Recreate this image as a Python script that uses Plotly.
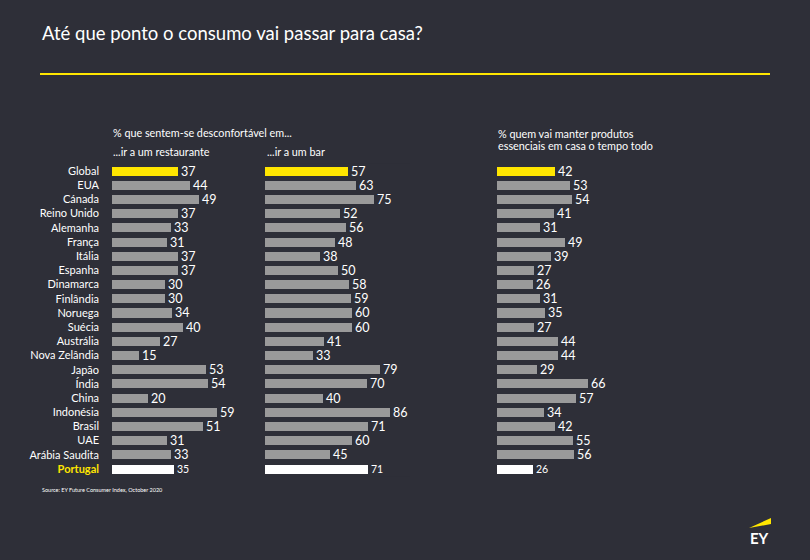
import plotly.graph_objects as go

W, H = 810, 560

countries = ["Global", "EUA", "Cánada", "Reino Unido", "Alemanha", "França", "Itália",
             "Espanha", "Dinamarca", "Finlândia", "Noruega", "Suécia", "Austrália",
             "Nova Zelândia", "Japão", "Índia", "China", "Indonésia", "Brasil", "UAE",
             "Arábia Saudita", "Portugal"]
restaurante = [37, 44, 49, 37, 33, 31, 37, 37, 30, 30, 34, 40, 27, 15, 53, 54, 20, 59, 51, 31, 33, 35]
bar = [57, 63, 75, 52, 56, 48, 38, 50, 58, 59, 60, 60, 41, 33, 79, 70, 40, 86, 71, 60, 45, 71]
essenciais = [42, 53, 54, 41, 31, 49, 39, 27, 26, 31, 35, 27, 44, 44, 29, 66, 57, 34, 42, 55, 56, 26]

BG = "#2e2f38"
YELLOW = "#ffe600"
GRAY = "#9a9a9a"
WHITE = "#ffffff"
FONT = "Lato"


def px(x):
    return x / W


def py(y):
    return 1 - y / H


n = len(countries)
idx = list(range(n))
colors = [YELLOW] + [GRAY] * (n - 2) + [WHITE]
tsize = [12.5] * (n - 1) + [10.5]

fig = go.Figure()

# panel pixel extents: (start_px, px_per_unit)
panels = [(112, 1.775, restaurante), (265, 1.45, bar), (497, 1.38, essenciais)]
row_top, row_bot = 171, 469
step = (row_bot - row_top) / (n - 1)
ytop = row_top - step / 2
ybot = row_bot + step / 2

for i, (x0, scale, vals) in enumerate(panels):
    xa = "x" if i == 0 else f"x{i+1}"
    ya = "y" if i == 0 else f"y{i+1}"
    fig.add_trace(go.Bar(
        x=vals, y=idx, orientation="h", width=0.64,
        marker=dict(color=colors, line=dict(width=0)),
        text=[str(v) for v in vals], textposition="outside",
        textfont=dict(color=WHITE, size=tsize, family=FONT),
        constraintext="none", cliponaxis=False,
        xaxis=xa, yaxis=ya, hoverinfo="skip", showlegend=False,
    ))
    rng = 100
    key = "xaxis" if i == 0 else f"xaxis{i+1}"
    ykey = "yaxis" if i == 0 else f"yaxis{i+1}"
    fig.layout[key] = dict(domain=[px(x0), px(x0 + rng * scale)], range=[0, rng],
                           visible=False, anchor=ya)
    yax = dict(domain=[py(ybot), py(ytop)], range=[n - 0.5, -0.5], anchor=xa,
               showgrid=False, zeroline=False, showline=False)
    if i == 0:
        ticktext = [c for c in countries[:-1]] + [
            f"<b><span style='color:{YELLOW}'>{countries[-1]}</span></b>"]
        yax.update(tickvals=idx, ticktext=ticktext, ticks="", ticklabelstandoff=12,
                   tickfont=dict(color=WHITE, size=11, family=FONT))
    else:
        yax.update(showticklabels=False)
    fig.layout[ykey] = yax

annos = []


def txt(x, y, s, size, color=WHITE, xanchor="left", yanchor="middle"):
    annos.append(dict(x=px(x), y=py(y), xref="paper", yref="paper", text=s,
                      showarrow=False, xanchor=xanchor, yanchor=yanchor,
                      font=dict(color=color, size=size, family=FONT)))


txt(40, 33, "Até que ponto o consumo vai passar para casa?", 18.5)
txt(111, 132, "% que sentem-se desconfortável em...", 10.8)
txt(111, 152, "...ir a um restaurante", 10.8)
txt(265, 152, "...ir a um bar", 10.8)
txt(496, 133, "% quem vai manter produtos", 10.8)
txt(496, 146, "essenciais em casa o tempo todo", 10.8)
txt(40, 490, "Source: EY Future Consumer Index, October 2020", 5.5)
txt(759, 538, "<b>EY</b>", 15, xanchor="center")

fig.update_layout(
    width=W, height=H, margin=dict(l=0, r=0, t=0, b=0),
    paper_bgcolor=BG, plot_bgcolor=BG, bargap=0,
    annotations=annos,
    shapes=[
        dict(type="line", xref="paper", yref="paper", x0=px(40), x1=px(770),
             y0=py(74), y1=py(74), line=dict(color=YELLOW, width=2)),
        dict(type="path", xref="paper", yref="paper",
             path=f"M {px(749)} {py(528)} L {px(771)} {py(518)} L {px(771)} {py(524)} Z",
             fillcolor=YELLOW, line=dict(width=0)),
    ],
)

fig.write_html("out.html")
